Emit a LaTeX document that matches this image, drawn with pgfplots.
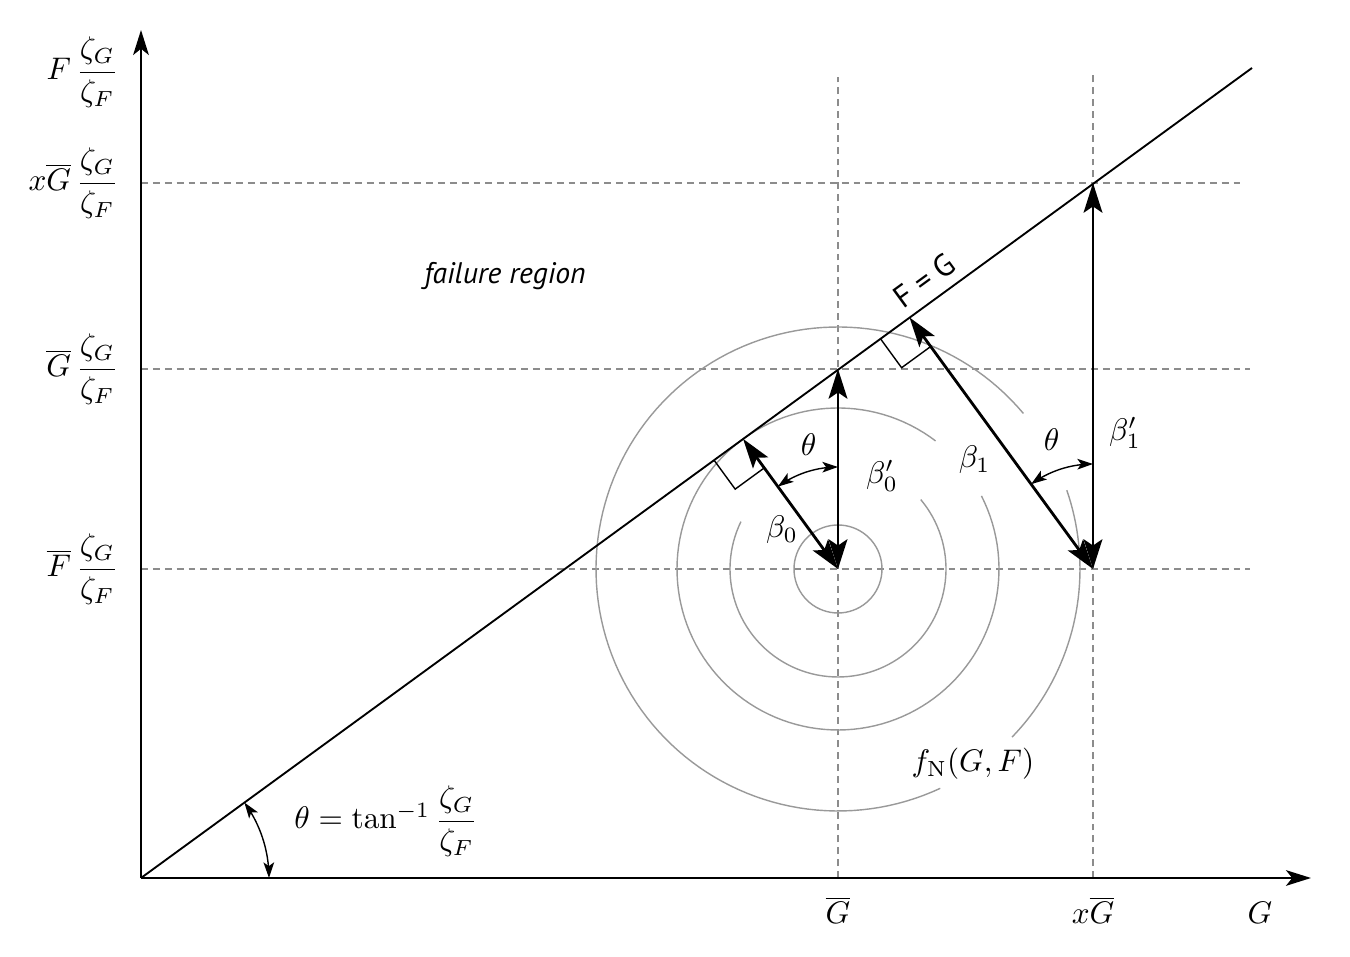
\documentclass[border=0pt]{standalone}
\usepackage{amsmath}
\usepackage[no-math]{fontspec}
\setmainfont{PT Sans}
\usepackage{pgfplots}
\pgfplotsset{compat=1.18}
\usetikzlibrary{arrows.meta}
\definecolor{circc}{gray}{0.6}
\definecolor{dashc}{gray}{0.55}
\begin{document}
\begin{tikzpicture}
\begin{axis}[x=0.32pt,y=0.32pt,
  xmin=-141,xmax=1209,ymin=-78,ymax=878,
  hide axis, clip=false,
  dl/.style={dashc, line width=0.5pt, dash pattern=on 2.2pt off 1.6pt},
  cc/.style={circc, line width=0.45pt},
  big/.style={line width=0.9pt, {Stealth[length=9.5pt,width=6pt,inset=2pt]}-{Stealth[length=9.5pt,width=6pt,inset=2pt]}},
  sm/.style={line width=0.45pt, {Stealth[length=5pt,width=3.4pt,inset=1.2pt]}-{Stealth[length=5pt,width=3.4pt,inset=1.2pt]}},
]
\path (axis cs:-141,-78) rectangle (axis cs:1209,878);
% dashed reference lines
\addplot[dl] coordinates {(0,695) (1099,695)};
\addplot[dl] coordinates {(0,509) (1109,509)};
\addplot[dl] coordinates {(0,309) (1109,309)};
\addplot[dl] coordinates {(697,0) (697,801)};
\addplot[dl] coordinates {(952,0) (952,805)};
% contour circles
\addplot[cc, domain=0:360, samples=73] ({697+44*cos(x)},{309+44*sin(x)});
\addplot[cc, domain=154:400, samples=90] ({697+108*cos(x)},{309+108*sin(x)});
\addplot[cc, domain=52.7:387, samples=130] ({697+161*cos(x)},{309+161*sin(x)});
\addplot[cc, domain=40:295, samples=120] ({697+242*cos(x)},{309+242*sin(x)});
\addplot[cc, domain=316:379, samples=40] ({697+242*cos(x)},{309+242*sin(x)});
% limit state line
\addplot[black, line width=0.6pt] coordinates {(0,0) (1111,810)};
% axes
\addplot[black, line width=0.75pt, -{Stealth[length=8pt,width=5pt,inset=2pt]}] coordinates {(0,0) (1170,0)};
\addplot[black, line width=0.75pt, -{Stealth[length=8pt,width=5pt,inset=2pt]}] coordinates {(0,0) (0,848)};
% beta arrows
\addplot[big] coordinates {(697,309) (697,509)};
\addplot[big] coordinates {(697,309) (602.05,439.15)};
\addplot[big] coordinates {(952,309) (768.48,560.55)};
\addplot[big] coordinates {(952,309) (952,695)};
% right angle marks
\addplot[black, line width=0.45pt] coordinates {(572.97,417.94) (594.18,388.86) (623.26,410.07)};
\addplot[black, line width=0.45pt] coordinates {(739.40,539.34) (760.61,510.26) (789.69,531.47)};
% theta arcs
\addplot[sm, domain=90:126.09, samples=30] ({697+102*cos(x)},{309+102*sin(x)});
\addplot[sm, domain=90:126.09, samples=30] ({952+105*cos(x)},{309+105*sin(x)});
\addplot[sm, domain=0:36.09, samples=30] ({128*cos(x)},{128*sin(x)});
% labels
\node[anchor=base east, inner sep=0pt] at (axis cs:-22,798) {$F\,\dfrac{\zeta_G}{\zeta_F}$};
\node[anchor=base east, inner sep=0pt] at (axis cs:-22,687) {$x\overline{G}\,\dfrac{\zeta_G}{\zeta_F}$};
\node[anchor=base east, inner sep=0pt] at (axis cs:-22,501) {$\overline{G}\,\dfrac{\zeta_G}{\zeta_F}$};
\node[anchor=base east, inner sep=0pt] at (axis cs:-22,301) {$\overline{F}\,\dfrac{\zeta_G}{\zeta_F}$};
\node[anchor=base, inner sep=0pt] at (axis cs:697,-46) {$\overline{G}$};
\node[anchor=base, inner sep=0pt] at (axis cs:952,-46) {$x\overline{G}$};
\node[anchor=base, inner sep=0pt] at (axis cs:1119,-46) {$G$};
\node[anchor=base, inner sep=0pt] at (axis cs:245,49) {$\theta = \tan^{-1}\dfrac{\zeta_G}{\zeta_F}$};
\node at (axis cs:364,602) {\fontsize{9.5}{11}\selectfont\itshape failure region};
\node[anchor=south, rotate=36.09, inner sep=3pt] at (axis cs:795.8,580.5) {F = G};
\node at (axis cs:667.6,433) {$\theta$};
\node at (axis cs:910.7,438) {$\theta$};
\node at (axis cs:641,348) {$\beta_0$};
\node at (axis cs:741,402) {$\beta'_0$};
\node at (axis cs:833.6,418) {$\beta_1$};
\node at (axis cs:984,445) {$\beta'_1$};
\node at (axis cs:832,114) {$f_{\mathrm{N}}(G,F)$};
\end{axis}
\end{tikzpicture}
\end{document}
